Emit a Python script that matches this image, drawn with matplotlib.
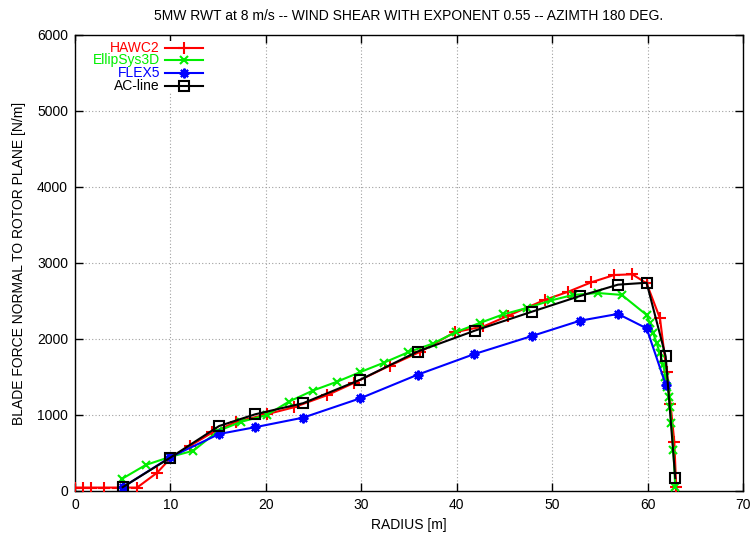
import matplotlib
matplotlib.use("Agg")
import matplotlib.pyplot as plt
from matplotlib.lines import Line2D
from matplotlib.patches import Rectangle

plt.rcParams['font.family'] = ['Liberation Sans', 'DejaVu Sans']

title = "5MW RWT at 8 m/s -- WIND SHEAR WITH EXPONENT 0.55 -- AZIMTH 180 DEG."
xlabel = "RADIUS [m]"
ylabel = "BLADE FORCE NORMAL TO ROTOR PLANE [N/m]"

hawc2_x = [0, 0.8, 1.7, 3.0, 4.5, 6.5, 8.6, 10.0, 12.0, 14.4, 16.9, 20.1, 22.9, 26.4,
           29.2, 33.0, 36.2, 39.8, 42.8, 45.4, 49.2, 51.7, 54.1, 56.5, 58.4, 59.9,
           61.3, 62.0, 62.4, 62.8, 63.0]
hawc2_y = [45, 45, 45, 45, 45, 45, 240, 430, 590, 770, 910, 1010, 1100, 1260,
           1420, 1650, 1833, 2090, 2165, 2307, 2513, 2623, 2746, 2842, 2851, 2733,
           2272, 1570, 1150, 650, 50]

ellip_x = [4.9, 7.4, 10.0, 12.4, 15.0, 17.4, 20.1, 22.4, 24.9, 27.5, 29.9, 32.4, 34.9,
           37.5, 39.9, 42.4, 44.9, 47.4, 49.9, 52.2, 54.8, 57.3, 59.9, 60.25, 60.6,
           60.95, 61.3, 61.65, 61.86, 62.07, 62.28, 62.35, 62.5, 62.7, 62.9]
ellip_y = [158, 342, 450, 530, 790, 910, 1000, 1175, 1320, 1440, 1565, 1690, 1825,
           1940, 2090, 2210, 2325, 2410, 2508, 2580, 2605, 2580, 2316, 2206, 2075,
           1943, 1811, 1658, 1504, 1372, 1240, 1110, 890, 540, 57]

flex5_x = [5.0, 10.0, 15.1, 18.9, 23.9, 29.9, 35.9, 41.8, 47.9, 52.9, 56.9, 59.9, 61.9]
flex5_y = [50, 445, 750, 840, 965, 1220, 1530, 1800, 2040, 2240, 2330, 2140, 1400]

acl_x = [5.0, 10.0, 15.1, 18.9, 23.9, 29.9, 35.9, 41.9, 47.9, 52.9, 56.9, 59.9, 61.9, 62.9]
acl_y = [50, 440, 855, 1010, 1155, 1465, 1835, 2110, 2360, 2565, 2715, 2740, 1770, 170]

series = [
    ("HAWC2", hawc2_x, hawc2_y, "#ff0000", "+", 8, None),
    ("EllipSys3D", ellip_x, ellip_y, "#00ee00", "x", 6, None),
    ("FLEX5", flex5_x, flex5_y, "#0000ff", (8, 2, 0), 7, None),
    ("AC-line", acl_x, acl_y, "#000000", "s", 6.5, "none"),
]

fig = plt.figure(figsize=(7.52, 5.35), dpi=100)
ax = fig.add_axes([75/752, 44/535, 668/752, 456/535])

ax.set_xlim(0, 70)
ax.set_ylim(0, 6000)
ax.set_xticks(range(0, 71, 10))
ax.set_yticks(range(0, 6001, 1000))
ax.grid(True, color="#a0a0a0", linestyle=(0, (1, 2)), linewidth=0.8)
ax.set_axisbelow(True)
ax.tick_params(direction="in", length=6, width=1, top=True, right=True,
               labelsize=10, pad=5)
for s in ax.spines.values():
    s.set_linewidth(1.0)

# legend background (opaque, covers grid)
ax.add_patch(Rectangle((0.001, 1 - (92-35)/456), 0.2, (92-41)/456,
                       transform=ax.transAxes, facecolor="white",
                       edgecolor="none", zorder=1))

for name, xs, ys, col, mk, ms, mfc in series:
    kw = dict(color=col, linewidth=1.5, marker=mk, markersize=ms,
              markeredgewidth=1.5, zorder=3)
    if mfc is not None:
        kw["markerfacecolor"] = mfc
    ax.plot(xs, ys, **kw)

# manual gnuplot-style legend
rows_px = [47.5, 60.3, 73.1, 85.9]
for (name, xs, ys, col, mk, ms, mfc), ypx in zip(series, rows_px):
    ya = 1 - (ypx - 35) / 456
    ax.text((160 - 75) / 668, ya, name, transform=ax.transAxes, ha="right",
            va="center", color=col, fontsize=10, zorder=4)
    ax.add_line(Line2D([(165 - 75) / 668, (203 - 75) / 668], [ya, ya],
                       transform=ax.transAxes, color=col, linewidth=1.5, zorder=4))
    kw = dict(transform=ax.transAxes, color=col, marker=mk, markersize=ms,
              markeredgewidth=1.5, linestyle="none", zorder=5)
    if mfc is not None:
        kw["markerfacecolor"] = mfc
    ax.add_line(Line2D([(184 - 75) / 668], [ya], **kw))

ax.set_xlabel(xlabel, fontsize=10, labelpad=4)
ax.set_ylabel(ylabel, fontsize=10, labelpad=8)
fig.text(409 / 752, 1 - 16 / 535, title, ha="center", va="center", fontsize=10)

fig.savefig("out.png", dpi=100)
